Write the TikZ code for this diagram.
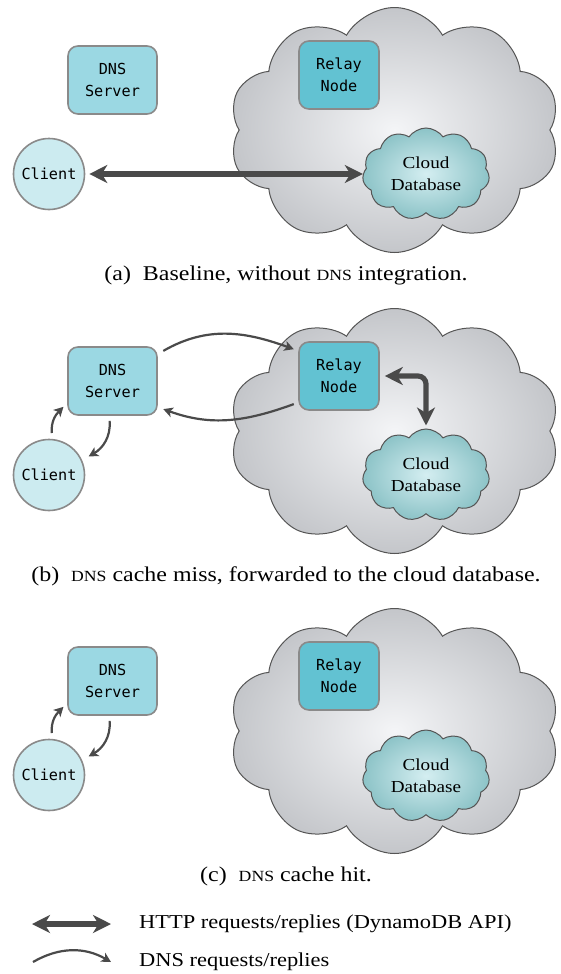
\documentclass[tikz,border=0pt]{standalone}
\usepackage{fontspec}
\setmainfont{Liberation Serif}
\setmonofont{DejaVu Sans Mono}
\newfontfamily\widefont[FakeStretch=1.14]{Liberation Serif}
\usetikzlibrary{shapes.symbols,arrows.meta}
\definecolor{dnsfill}{HTML}{9BD8E3}
\definecolor{relayfill}{HTML}{62C2D2}
\definecolor{clientfill}{HTML}{CCEBF0}
\definecolor{boxedge}{HTML}{8A8A8A}
\definecolor{arrowgray}{HTML}{4A4A4A}
\definecolor{cloudin}{HTML}{F4F5F7}
\definecolor{cloudout}{HTML}{C4C6CA}
\definecolor{cloudedge}{HTML}{555555}
\definecolor{dbin}{HTML}{D4EEF1}
\definecolor{dbout}{HTML}{8CC3C7}
\newcommand\capdns{{\fontsize{15.5}{18}\selectfont DNS}}
\begin{document}
\begin{tikzpicture}[x=1pt,y=1pt,
  basebox/.style={draw=boxedge, line width=1.6pt, rounded corners=10pt,
    minimum height=68pt, align=center, inner sep=0pt,
    font=\fontsize{15.2}{22}\selectfont\ttfamily},
  dnsbox/.style={basebox, fill=dnsfill, minimum width=89pt},
  relaybox/.style={basebox, fill=relayfill, minimum width=80pt},
  clientnode/.style={circle, draw=boxedge, line width=1.6pt, fill=clientfill,
    minimum size=71pt, inner sep=0pt, font=\fontsize{15.2}{22}\selectfont\ttfamily},
  bigcloud/.style={cloud, cloud puffs=10, cloud puff arc=120, cloud ignores aspect,
    minimum width=331pt, minimum height=245pt, draw=cloudedge, line width=1pt,
    inner color=cloudin, outer color=cloudout},
  dbcloud/.style={cloud, cloud puffs=11, cloud puff arc=110, cloud ignores aspect,
    minimum width=127pt, minimum height=92pt, draw=cloudedge, line width=1pt,
    inner color=dbin, outer color=dbout, align=center, inner sep=0pt,
    font=\widefont\fontsize{16.8}{22}\selectfont},
  httparrow/.style={line width=5.2pt, draw=arrowgray,
    {Stealth[length=18pt,width=18pt,inset=5.5pt]}-{Stealth[length=18pt,width=18pt,inset=5.5pt]}},
  dnsarrow/.style={line width=2.2pt, draw=arrowgray,
    -{Stealth[length=9.5pt,width=10pt,inset=2.5pt]}},
  captext/.style={font=\widefont\fontsize{21}{25}\selectfont, inner sep=0pt, anchor=base},
  legtext/.style={font=\widefont\fontsize{19.7}{24}\selectfont, inner sep=0pt, anchor=west}
]
\useasboundingbox (0,0) rectangle (560,-974);

% ---------- panel (a)
\node[bigcloud] (bigA) at (394.5,-130) {};
\node[relaybox] (relayA) at (339,-75) {Relay\\Node};
\node[dbcloud] (dbA) at (426,-174) {Cloud\\Database};
\node[dnsbox] (dnsA) at (112.5,-80) {DNS\\Server};
\node[clientnode] (clientA) at (49,-174) {Client};
\draw[httparrow, shorten <=4pt] (clientA.east) -- (dbA.west |- clientA.east);
\node[captext] (capA) at (286,-280) {(a)\ \ Baseline, without \capdns\ integration.};

% ---------- panel (b)
\node[bigcloud] (bigB) at (394.5,-431) {};
\node[relaybox] (relayB) at (339,-376) {Relay\\Node};
\node[dbcloud] (dbB) at (426,-475) {Cloud\\Database};
\node[dnsbox] (dnsB) at (112.5,-381) {DNS\\Server};
\node[clientnode] (clientB) at (49,-475) {Client};
\draw[dnsarrow] ([shift={(5.5,-4.7)}]dnsB.north east) to[out=30,in=160] ([shift={(-4.4,-8)}]relayB.north west);
\draw[dnsarrow] ([shift={(-4.4,6.7)}]relayB.south west) to[out=200,in=-20] ([shift={(5.5,6.7)}]dnsB.south east);
\draw[dnsarrow] ([shift={(2.8,5.7)}]clientB.north) to[out=95,in=-135] ([shift={(-3.7,9)}]dnsB.south west);
\draw[dnsarrow] ([shift={(-2.9,-5)}]dnsB.south) to[out=-85,in=30] ([shift={(7.3,2.1)}]clientB.27);
\draw[httparrow, rounded corners=8pt, shorten <=5pt, shorten >=3pt] (relayB.east) -| (dbB.north);
\node[captext] (capB) at (286,-581) {(b)\ \ \capdns\ cache miss, forwarded to the cloud database.};

% ---------- panel (c)
\node[bigcloud] (bigC) at (394.5,-731) {};
\node[relaybox] (relayC) at (339,-676) {Relay\\Node};
\node[dbcloud] (dbC) at (426,-776) {Cloud\\Database};
\node[dnsbox] (dnsC) at (112.5,-681) {DNS\\Server};
\node[clientnode] (clientC) at (49,-775) {Client};
\draw[dnsarrow] ([shift={(2.8,5.7)}]clientC.north) to[out=95,in=-135] ([shift={(-3.7,9)}]dnsC.south west);
\draw[dnsarrow] ([shift={(-2.9,-5)}]dnsC.south) to[out=-85,in=30] ([shift={(7.3,2.1)}]clientC.27);
\node[captext] (capC) at (286,-881) {(c)\ \ \capdns\ cache hit.};

% ---------- legend
\coordinate (l1a) at (32,-924);
\coordinate (l1b) at (111,-924);
\coordinate (l2a) at (33,-962);
\coordinate (l2b) at (111,-962);
\draw[httparrow] (l1a) -- (l1b);
\draw[dnsarrow] (l2a) to[out=30,in=150] (l2b);
\node[legtext] (leg1) at (139,-924) {HTTP requests/replies (DynamoDB API)};
\node[legtext] (leg2) at (139,-962) {DNS requests/replies};
\end{tikzpicture}
\end{document}
